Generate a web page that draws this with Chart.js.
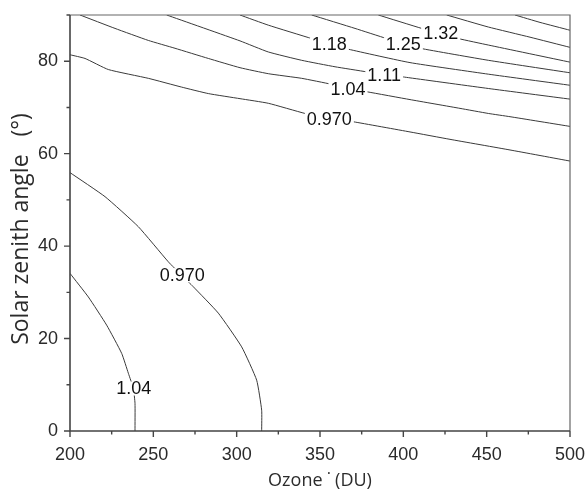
<!DOCTYPE html>
<html>
<head>
<meta charset="utf-8">
<script src="https://cdn.jsdelivr.net/npm/chart.js@4.4.1/dist/chart.umd.min.js"></script>
<style>
  html, body { margin: 0; padding: 0; background: #ffffff; }
  #wrap { width: 585px; height: 490px; }
</style>
</head>
<body>
<div id="wrap"><canvas id="c" width="585" height="490"></canvas></div>
<script>
// ---- Data (ozone in DU, solar zenith angle in degrees) ----
const xTicks = [200, 250, 300, 350, 400, 450, 500];
const xMinorTicks = [225, 275, 325, 375, 425, 475];
const yTicks = [0, 20, 40, 60, 80];
const yMinorTicks = [10, 30, 50, 70, 90];

// Upper family of contours
const c0970Upper = [[200,81.4],[209,80.6],[223,78.2],[247,76.3],[267,74.4],[283,73.0],[302,71.9],[319,70.9],[341,68.7],[356,67.6],[370,66.9],[404,64.7],[428,63.1],[464,60.8],[500,58.4]];
const c104Upper  = [[206,90],[227,87.1],[247,84.5],[263,82.8],[283,80.6],[302,78.6],[319,77.3],[339,76.3],[357,75.0],[368,74.0],[378,73.4],[404,71.7],[434,69.8],[451,68.7],[464,68.0],[500,65.9]];
const c111 = [[258,90],[302,84.4],[319,82.0],[339,80.2],[359,78.8],[378,77.7],[389,77.0],[400,76.6],[404,76.4],[451,74.1],[500,71.8]];
const c118 = [[302,90],[319,87.8],[345,84.9],[356,83.7],[367,82.6],[404,79.7],[451,77.2],[500,74.8]];
const c125 = [[345,90],[371,87.1],[390,84.9],[400,83.8],[410,82.8],[451,80.2],[500,77.5]];
const c132 = [[385,90],[411,87.1],[422,86.0],[433,84.9],[451,83.5],[500,79.8]];
const c139 = [[426,90],[451,87.4],[476,85.2],[500,83.0]];
const c146 = [[467,90],[482,88.4],[500,86.7]];

// Lower-left family of contours
const c0970Lower = [[200,55.9],[221,50.7],[241,44.2],[259,36.6],[267,33.7],[274,31.2],[289,25.5],[303,18.2],[312,11.0],[315,4.5],[315,0]];
const c104Lower  = [[200,34.1],[211,29.0],[222,22.9],[231,16.8],[235,12.5],[238,9.2],[239,6.0],[239,0]];

const contours = [c0970Upper, c104Upper, c111, c118, c125, c132, c139, c146, c0970Lower, c104Lower];

// Contour labels
const labelText  = ['0.970', '1.04', '1.11', '1.18', '1.25', '1.32', '0.970', '1.04'];
const labelOzone = [355.6, 366.8, 388.5, 355.6, 400.0, 422.4, 267.3, 238.3];
const labelSza   = [67.6, 74.0, 77.0, 83.7, 83.7, 86.0, 33.7, 9.2];

const datasets = contours.map(c => ({
  data: c.map(p => ({x: p[0], y: p[1]})),
  showLine: true,
  borderColor: '#3a3a3a',
  borderWidth: 1,
  pointRadius: 0,
  tension: 0.15,
  fill: false
}));

const framePlugin = {
  id: 'frame',
  afterDatasetsDraw(chart) {
    const ctx = chart.ctx;
    const xs = chart.scales.x, ys = chart.scales.y;
    ctx.save();
    ctx.font = '18px "Liberation Sans", Arial, sans-serif';
    ctx.textAlign = 'center';
    ctx.textBaseline = 'middle';
    labelText.forEach((t, i) => {
      const px = xs.getPixelForValue(labelOzone[i]);
      const py = ys.getPixelForValue(labelSza[i]);
      const w = ctx.measureText(t).width;
      ctx.fillStyle = '#ffffff';
      ctx.fillRect(px - w / 2 - 2, py - 7, w + 4, 14);
      ctx.fillStyle = '#111111';
      ctx.fillText(t, px, py + 1);
    });
    ctx.restore();
  },
  afterDraw(chart) {
    const ctx = chart.ctx;
    const a = chart.chartArea;
    const xs = chart.scales.x, ys = chart.scales.y;
    ctx.save();
    ctx.strokeStyle = '#666666';
    ctx.lineWidth = 1.2;
    ctx.beginPath();
    ctx.moveTo(a.left, a.top);
    ctx.lineTo(a.right, a.top);
    ctx.lineTo(a.right, a.bottom);
    ctx.stroke();
    ctx.strokeStyle = '#444444';
    ctx.lineWidth = 1.6;
    ctx.beginPath();
    ctx.moveTo(a.left, a.top);
    ctx.lineTo(a.left, a.bottom);
    ctx.lineTo(a.right, a.bottom);
    ctx.stroke();
    ctx.lineWidth = 1.4;
    ctx.beginPath();
    xTicks.forEach(v => { const p = xs.getPixelForValue(v); ctx.moveTo(p, a.bottom); ctx.lineTo(p, a.bottom + 6); });
    xMinorTicks.forEach(v => { const p = xs.getPixelForValue(v); ctx.moveTo(p, a.bottom); ctx.lineTo(p, a.bottom + 3.5); });
    yTicks.forEach(v => { const p = ys.getPixelForValue(v); ctx.moveTo(a.left, p); ctx.lineTo(a.left - 6, p); });
    yMinorTicks.forEach(v => { const p = ys.getPixelForValue(v); ctx.moveTo(a.left, p); ctx.lineTo(a.left - 3.5, p); });
    ctx.stroke();
    ctx.restore();
  }
};

const tickFont = { family: '"Liberation Sans Narrow", "Arial Narrow", "Liberation Sans", sans-serif', size: 18 };

new Chart(document.getElementById('c'), {
  type: 'scatter',
  data: { datasets },
  options: {
    responsive: false,
    animation: false,
    layout: { padding: { top: 15, right: 15, left: 0, bottom: 0 } },
    plugins: { legend: { display: false }, tooltip: { enabled: false } },
    scales: {
      x: {
        type: 'linear', min: 200, max: 500,
        afterBuildTicks: s => { s.ticks = xTicks.map(v => ({value: v})); },
        afterFit: s => { s.height = 59; s.paddingLeft = 0; s.paddingRight = 0; },
        grid: { display: false, drawTicks: false },
        border: { display: false },
        ticks: { padding: 13, color: '#2a2a2a', font: tickFont, maxRotation: 0 },
        title: { display: true, text: 'Ozone \u02D9 (DU)', color: '#2b2b2b', font: { family: '"Open Sans", sans-serif', size: 18 }, padding: { top: 0, bottom: -2 } }
      },
      y: {
        type: 'linear', min: 0, max: 90,
        afterBuildTicks: s => { s.ticks = yTicks.map(v => ({value: v})); },
        afterFit: s => { s.width = 70; s.paddingTop = 0; s.paddingBottom = 0; },
        grid: { display: false, drawTicks: false },
        border: { display: false },
        ticks: { padding: 12, color: '#2a2a2a', font: tickFont },
        title: { display: true, text: 'Solar zenith angle\u00a0\u00a0\u00a0(\u00b0)\u00a0\u00a0', color: '#2b2b2b', font: { family: '"Open Sans", sans-serif', size: 23 }, padding: { top: 8, bottom: 0 } }
      }
    }
  },
  plugins: [framePlugin]
});
</script>
</body>
</html>
